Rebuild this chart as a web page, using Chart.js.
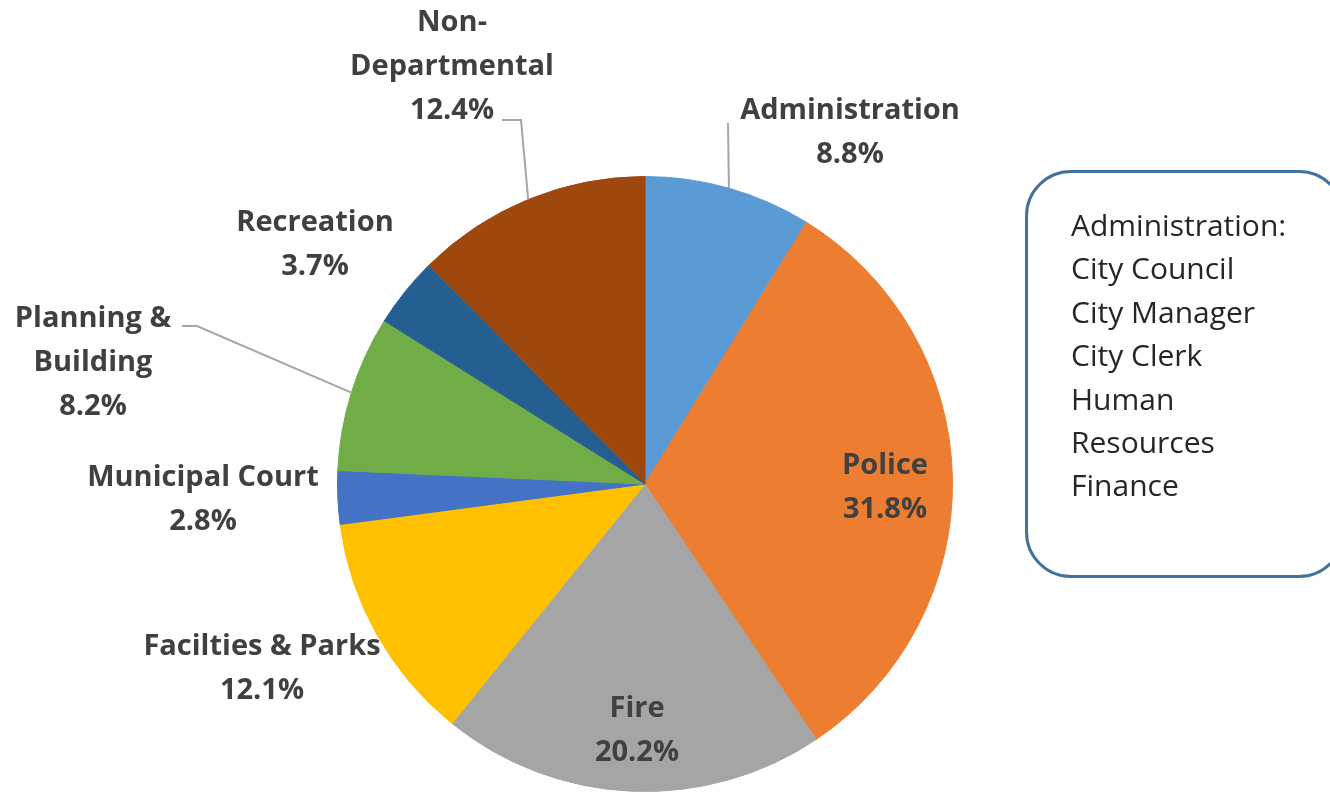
<!DOCTYPE html>
<html>
<head>
<meta charset="utf-8">
<script src="https://cdn.jsdelivr.net/npm/chart.js@4.4.1/dist/chart.umd.min.js"></script>
<style>
  html, body { margin: 0; padding: 0; background: #fff; }
  #wrap { position: relative; width: 1330px; height: 793px; }
  #note {
    position: absolute; left: 1025px; top: 170px; width: 320px; height: 408px;
    box-sizing: border-box; border: 3px solid #41719c; border-radius: 46px;
    padding: 30px 0 0 43px;
    font-family: 'Open Sans', sans-serif; font-size: 30px; line-height: 43.4px; color: #262626;
  }
</style>
</head>
<body>
<div id="wrap">
  <canvas id="budgetPie"></canvas>
  <div id="note">Administration:<br>City Council<br>City Manager<br>City Clerk<br>Human<br>Resources<br>Finance</div>
</div>
<script>
// departments, clockwise from 12 o'clock
const departments = ['Administration', 'Police', 'Fire', 'Facilties & Parks', 'Municipal Court',
                     'Planning & Building', 'Recreation', 'Non-Departmental'];
const shares = [8.8, 31.8, 20.2, 12.1, 2.8, 8.2, 3.7, 12.4];
const sliceColors = ['#5b9bd5', '#ed7d31', '#a5a5a5', '#ffc000', '#4472c4', '#70ad47', '#255e91', '#9e480e'];

// label text lines (name split like the original) and where the label block sits
const labelLines = [
    ['Administration'], ['Police'], ['Fire'], ['Facilties & Parks'], ['Municipal Court'],
    ['Planning &', 'Building'], ['Recreation'], ['Non-', 'Departmental']
];
const labelSpots = [
    { x: 850, y: 111, leader: [[728, 123]] },
    { x: 885, y: 466 },
    { x: 637, y: 709 },
    { x: 262, y: 647 },
    { x: 203, y: 478 },
    { x: 93, y: 319, leader: [[197, 326], [182, 326]] },
    { x: 315, y: 223 },
    { x: 452, y: 23, leader: [[521, 120], [502, 120]] }
];

const pieLabels = {
    id: 'pieLabels',
    afterDraw(chart) {
        const ctx = chart.ctx;
        const arcs = chart.getDatasetMeta(0).data;
        ctx.save();
        // leader lines
        ctx.strokeStyle = '#a6a6a6';
        ctx.lineWidth = 2;
        arcs.forEach((arc, i) => {
            const spot = labelSpots[i];
            if (!spot.leader) return;
            const mid = (arc.startAngle + arc.endAngle) / 2;
            ctx.beginPath();
            ctx.moveTo(arc.x + Math.cos(mid) * arc.outerRadius, arc.y + Math.sin(mid) * arc.outerRadius);
            spot.leader.forEach(p => ctx.lineTo(p[0], p[1]));
            ctx.stroke();
        });
        // text
        ctx.fillStyle = '#404040';
        ctx.font = "bold 29px 'Open Sans', sans-serif";
        ctx.textAlign = 'center';
        ctx.textBaseline = 'middle';
        arcs.forEach((arc, i) => {
            const spot = labelSpots[i];
            const lines = labelLines[i].concat([shares[i].toFixed(1) + '%']);
            lines.forEach((t, k) => ctx.fillText(t, spot.x, spot.y + k * 44));
        });
        ctx.restore();
    }
};

new Chart(document.getElementById('budgetPie'), {
    type: 'pie',
    data: {
        labels: departments,
        datasets: [{
            data: shares,
            backgroundColor: sliceColors,
            borderColor: sliceColors,
            borderWidth: 1,
            hoverOffset: 0
        }]
    },
    options: {
        responsive: true,
        maintainAspectRatio: false,
        animation: false,
        events: [],
        layout: { padding: { left: 337, right: 377, top: 176, bottom: 1 } },
        plugins: {
            legend: { display: false },
            tooltip: { enabled: false }
        }
    },
    plugins: [pieLabels]
});
</script>
</body>
</html>
